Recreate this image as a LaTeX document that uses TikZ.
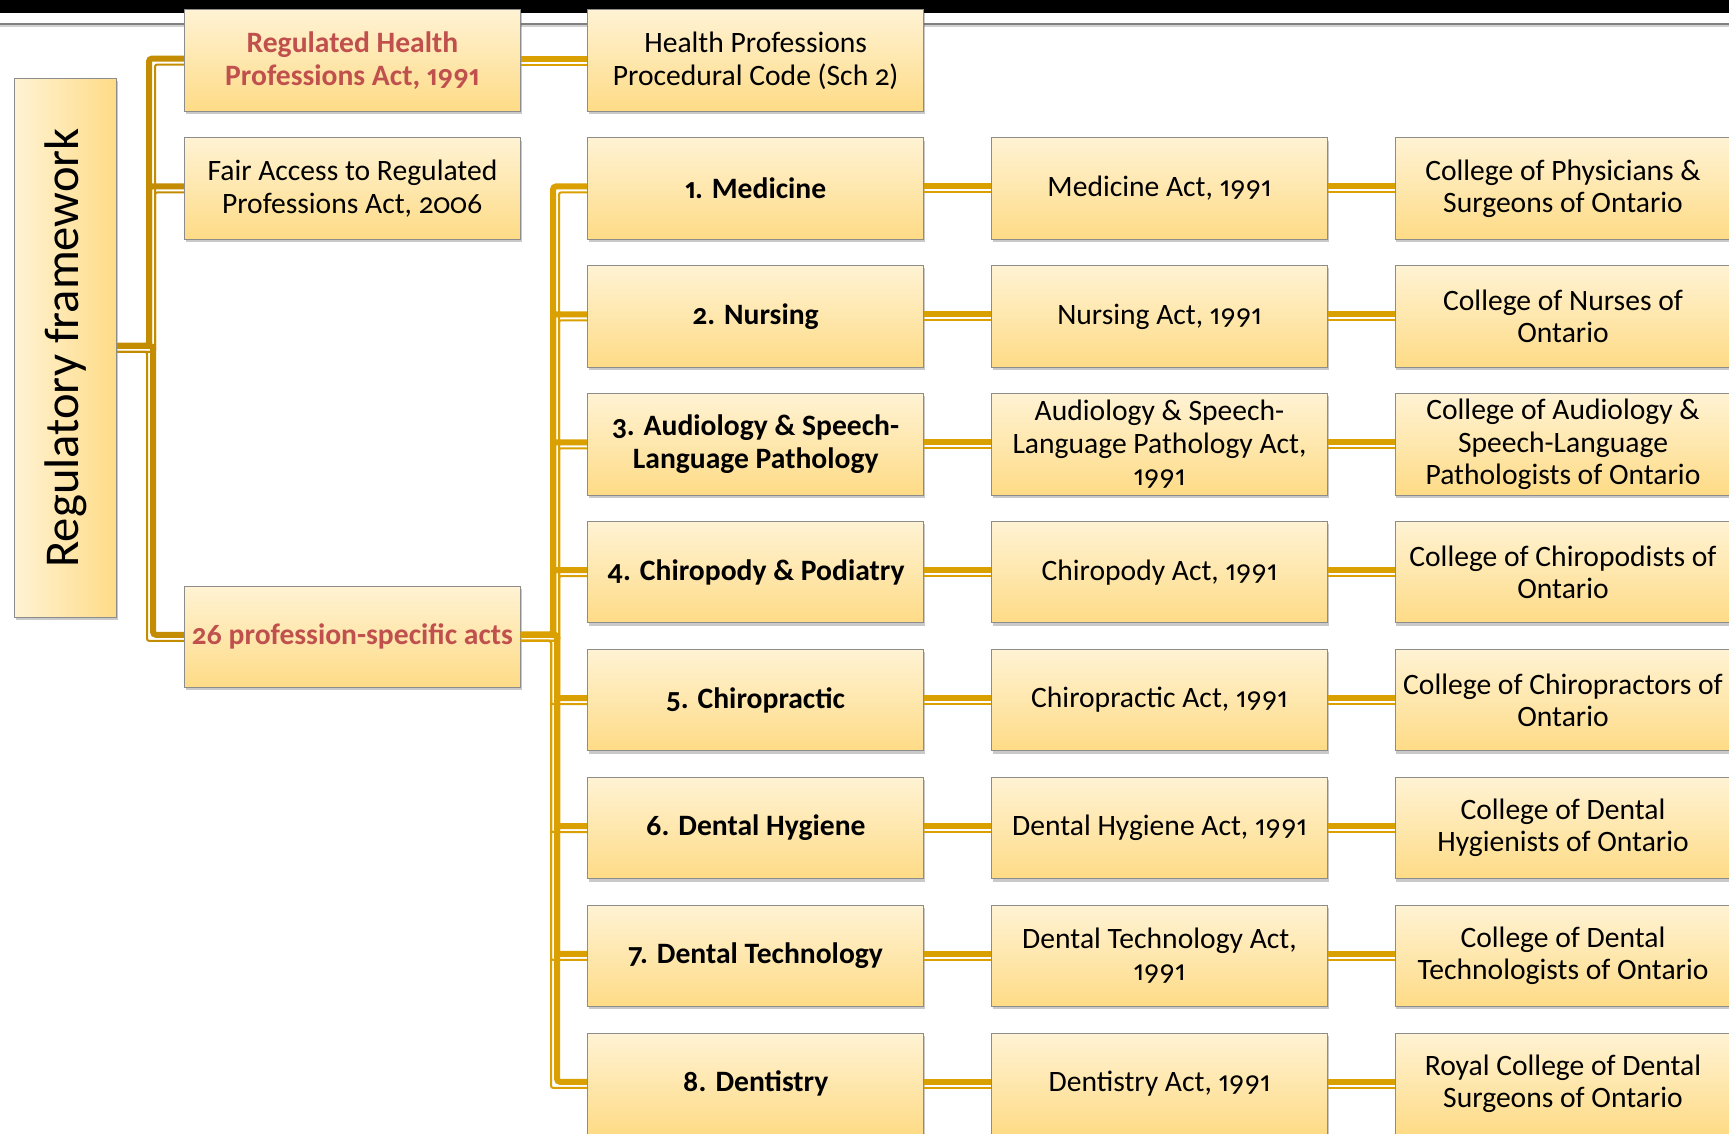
\documentclass[tikz,border=0pt]{standalone}
\usepackage{fontspec}
\setmainfont{Carlito}[Numbers={OldStyle,Proportional}]
\usetikzlibrary{calc,shadows}
\definecolor{boxtop}{HTML}{FFF3D4}
\definecolor{boxbot}{HTML}{FEDB86}
\definecolor{boxedge}{HTML}{8C8C8C}
\definecolor{redtxt}{HTML}{C0504D}
\definecolor{goldA}{HTML}{C48C00}
\definecolor{goldB}{HTML}{DA9F00}
\tikzset{
  box/.style={draw=boxedge, line width=0.5pt, top color=boxtop, bottom color=boxbot,
    minimum width=168pt, minimum height=50.75pt, inner sep=1pt, align=center,
    font=\fontsize{14.8}{16.2}\selectfont,
    drop shadow={shadow xshift=0.6pt, shadow yshift=-1.4pt, opacity=0.3, fill=black!70}},
  bbox/.style={box, font=\fontsize{14.8}{16.2}\selectfont\bfseries},
  rbox/.style={bbox, text=redtxt},
  regbox/.style={draw=boxedge, line width=0.5pt, left color=boxtop, right color=boxbot,
    minimum width=51.3pt, minimum height=269.6pt, inner sep=0pt,
    font=\fontsize{24.3}{26}\selectfont,
    drop shadow={shadow xshift=0.6pt, shadow yshift=-1.4pt, opacity=0.3, fill=black!70}},
  thickln/.style={line width=3pt, rounded corners=1.5pt},
  thinln/.style={line width=1pt, rounded corners=1pt},
}
\newcommand\hlink[3]{%
  \draw[thickln,#3] ([shift={(0,-2)}]#1.east) -- ([shift={(0,-2)}]#2.west);
  \draw[thinln,#3] ([shift={(0,4)}]#1.east) -- ([shift={(0,4)}]#2.west);
}
\newcommand\elbow[5]{%
  \coordinate (ea) at (#3 |- #1.east);
  \coordinate (eb) at (#3 |- #2.west);
  \draw[thickln,#5] ([shift={(0,-2)}]#1.east) -- ([shift={(2*#4,-2)}]ea) -- ([shift={(2*#4,-2)}]eb) -- ([shift={(0,-2)}]#2.west);
  \draw[thinln,#5] ([shift={(0,4)}]#1.east) -- ([shift={(-4*#4,4)}]ea) -- ([shift={(-4*#4,4)}]eb) -- ([shift={(0,4)}]#2.west);
}
\begin{document}
\begin{tikzpicture}[x=0.5pt,y=-0.5pt]
\useasboundingbox (0,0) rectangle (1729,1134);
\fill[black] (0,0) rectangle (1729,13);
\fill[black!50] (0,23.5) rectangle (1729,25);
\fill[black!18] (0,25) rectangle (1729,27.5);
\coordinate (t1) at (151,0);
\coordinate (t2) at (555,0);

\node[regbox] (reg) at (65.6,347.9) {\rotatebox{90}{Regulatory framework}};
\node[rbox] (rhpa) at (352.4,60.6) {Regulated Health\\Professions Act, 1991};
\node[box] (hppc) at (755.7,60.6) {Health Professions\\Procedural Code (Sch 2)};
\node[box] (fair) at (352.4,188.5) {Fair Access to Regulated\\Professions Act, 2006};
\node[rbox] (acts) at (352.4,636.8) {26 profession-specific acts};

\node[bbox] (p1) at (755.7,188.5) {1. Medicine};
\node[bbox] (p2) at (755.7,316.4) {2. Nursing};
\node[bbox] (p3) at (755.7,444.3) {3. Audiology \& Speech-\\Language Pathology};
\node[bbox] (p4) at (755.7,572.2) {4. Chiropody \& Podiatry};
\node[bbox] (p5) at (755.7,700.1) {5. Chiropractic};
\node[bbox] (p6) at (755.7,828.0) {6. Dental Hygiene};
\node[bbox] (p7) at (755.7,955.9) {7. Dental Technology};
\node[bbox] (p8) at (755.7,1083.8) {8. Dentistry};

\node[box] (a1) at (1159.5,188.5) {Medicine Act, 1991};
\node[box] (a2) at (1159.5,316.4) {Nursing Act, 1991};
\node[box] (a3) at (1159.5,444.3) {Audiology \& Speech-\\Language Pathology Act,\\1991};
\node[box] (a4) at (1159.5,572.2) {Chiropody Act, 1991};
\node[box] (a5) at (1159.5,700.1) {Chiropractic Act, 1991};
\node[box] (a6) at (1159.5,828.0) {Dental Hygiene Act, 1991};
\node[box] (a7) at (1159.5,955.9) {Dental Technology Act,\\1991};
\node[box] (a8) at (1159.5,1083.8) {Dentistry Act, 1991};

\node[box] (c1) at (1563,188.5) {College of Physicians \&\\Surgeons of Ontario};
\node[box] (c2) at (1563,316.4) {College of Nurses of\\Ontario};
\node[box] (c3) at (1563,444.3) {College of Audiology \&\\Speech-Language\\Pathologists of Ontario};
\node[box] (c4) at (1563,572.2) {College of Chiropodists of\\Ontario};
\node[box] (c5) at (1563,700.1) {College of Chiropractors of\\Ontario};
\node[box] (c6) at (1563,828.0) {College of Dental\\Hygienists of Ontario};
\node[box] (c7) at (1563,955.9) {College of Dental\\Technologists of Ontario};
\node[box] (c8) at (1563,1083.8) {Royal College of Dental\\Surgeons of Ontario};

\elbow{reg}{rhpa}{t1}{-1}{goldA}
\elbow{reg}{fair}{t1}{-1}{goldA}
\elbow{reg}{acts}{t1}{1}{goldA}
\hlink{rhpa}{hppc}{goldB}
\elbow{acts}{p1}{t2}{-1}{goldB}
\elbow{acts}{p2}{t2}{-1}{goldB}
\elbow{acts}{p3}{t2}{-1}{goldB}
\elbow{acts}{p4}{t2}{-1}{goldB}
\elbow{acts}{p5}{t2}{1}{goldB}
\elbow{acts}{p6}{t2}{1}{goldB}
\elbow{acts}{p7}{t2}{1}{goldB}
\elbow{acts}{p8}{t2}{1}{goldB}
\foreach \i in {1,...,8}{
  \hlink{p\i}{a\i}{goldB}
  \hlink{a\i}{c\i}{goldB}
}
\end{tikzpicture}
\end{document}
